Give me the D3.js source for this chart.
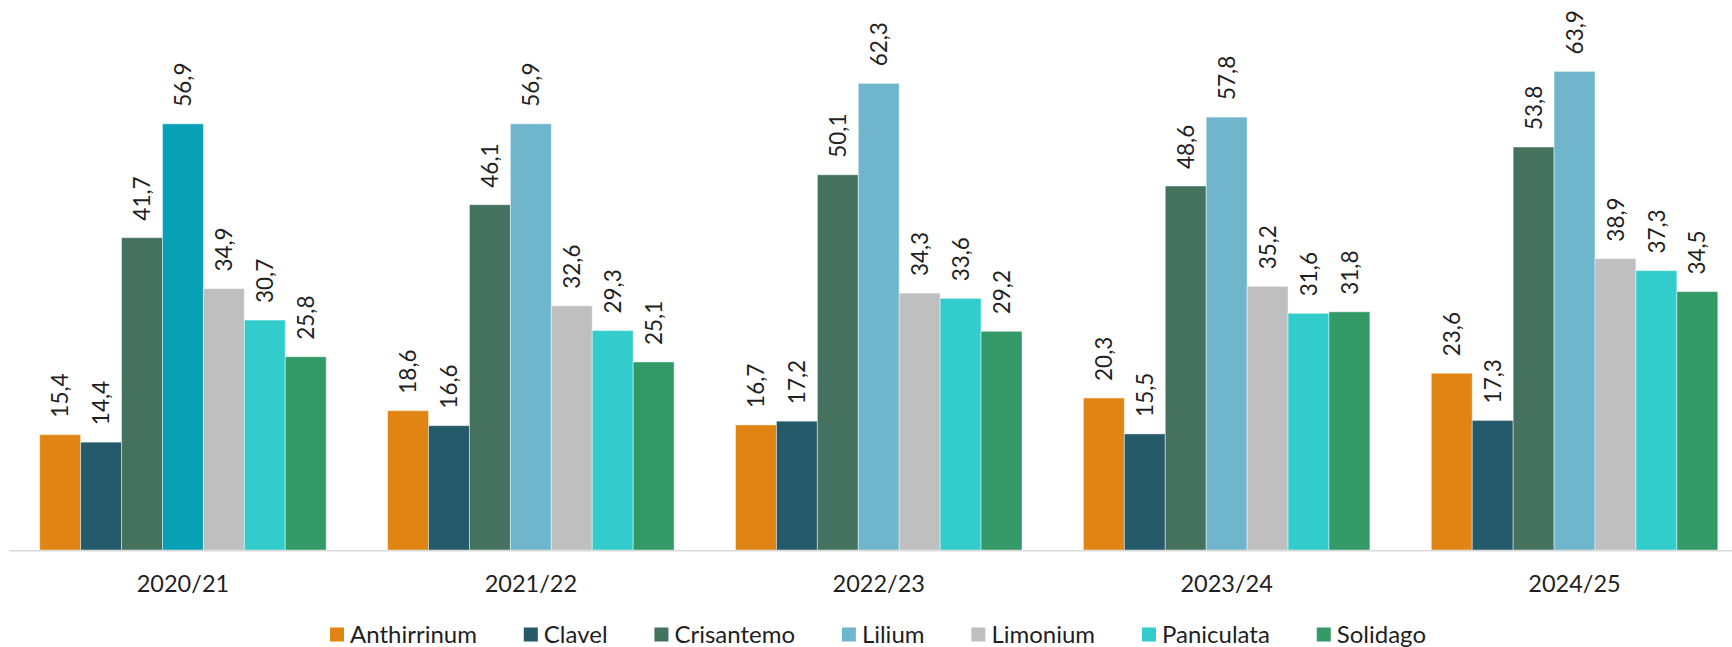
<!DOCTYPE html>
<html>
<head>
<meta charset="utf-8">
<script src="https://cdn.jsdelivr.net/npm/d3@7"></script>
<style>
  body { margin: 0; background: #fff; }
  text { font-family: Lato, "Noto Sans", sans-serif; fill: #1f1f1f; }
</style>
</head>
<body>
<script>
// campaigns on the x axis
var seasons = ["2020/21", "2021/22", "2022/23", "2023/24", "2024/25"]
// flower series
var flowers = ["Anthirrinum", "Clavel", "Crisantemo", "Lilium", "Limonium", "Paniculata", "Solidago"]
var colors = ["#e08414", "#245a69", "#44725e", "#6fb6cc", "#bfbfbf", "#33cccc", "#339966"]

// values per flower, one per season
var anthirrinum = [15.4, 18.6, 16.7, 20.3, 23.6]
var clavel      = [14.4, 16.6, 17.2, 15.5, 17.3]
var crisantemo  = [41.7, 46.1, 50.1, 48.6, 53.8]
var lilium      = [56.9, 56.9, 62.3, 57.8, 63.9]
var limonium    = [34.9, 32.6, 34.3, 35.2, 38.9]
var paniculata  = [30.7, 29.3, 33.6, 31.6, 37.3]
var solidago    = [25.8, 25.1, 29.2, 31.8, 34.5]
var series = [anthirrinum, clavel, crisantemo, lilium, limonium, paniculata, solidago]

// one point in the original has its own colour (Lilium 2020/21)
var pointColors = { "Lilium|2020/21": "#08a0b4" }

const width = 1732
const height = 647
const baseline = 550

var svg = d3.select("body").append("svg")
    .attr("width", width)
    .attr("height", height)

var x0 = d3.scaleBand().domain(seasons).range([9, 1748.5])
var x1 = d3.scaleBand().domain(flowers).range([30.7, x0.bandwidth() - 30.7])
var y = d3.scaleLinear().domain([0, 70]).range([baseline, 25.7])

var fmt = d => d3.format(".1f")(d).replace(".", ",")

// flatten into rows for drawing
var rows = []
seasons.forEach(function(s, i) {
    flowers.forEach(function(f, j) {
        rows.push({ season: s, flower: f, value: series[j][i], color: pointColors[f + "|" + s] || colors[j] })
    })
})

// bars
svg.append("g").selectAll("rect")
    .data(rows)
    .join("rect")
    .attr("x", d => x0(d.season) + x1(d.flower))
    .attr("y", d => y(d.value))
    .attr("width", x1.bandwidth())
    .attr("height", d => baseline - y(d.value))
    .attr("fill", d => d.color)
    .attr("stroke", "rgba(255,255,255,0.45)")
    .attr("stroke-width", 1)

// axis line
svg.append("line")
    .attr("x1", 9).attr("x2", width)
    .attr("y1", baseline + 0.75).attr("y2", baseline + 0.75)
    .attr("stroke", "#d9d9d9")
    .attr("stroke-width", 1.5)

// value labels, rotated
svg.append("g").selectAll("text")
    .data(rows)
    .join("text")
    .attr("transform", d => "translate(" + (x0(d.season) + x1(d.flower) + x1.bandwidth() / 2) + "," + (y(d.value) - 17) + ") rotate(-90)")
    .attr("dy", "0.36em")
    .attr("font-size", 22.5)
    .text(d => fmt(d.value))

// category labels
svg.append("g").selectAll("text")
    .data(seasons)
    .join("text")
    .attr("x", d => x0(d) + x0.bandwidth() / 2)
    .attr("y", 591.5)
    .attr("text-anchor", "middle")
    .attr("font-size", 23.5)
    .text(d => d)

// legend: spread between the left and right edges seen in the original
var legendLeft = 330, legendRight = 1426
var legend = svg.append("g")
var items = legend.selectAll("g")
    .data(flowers)
    .join("g")
items.append("rect")
    .attr("width", 14).attr("height", 14)
    .attr("y", 627.5)
    .attr("fill", (d, i) => colors[i])
items.append("text")
    .attr("x", 20)
    .attr("y", 642.5)
    .attr("font-size", 24)
    .text(d => d)

var widths = []
items.each(function() { widths.push(20 + d3.select(this).select("text").node().getComputedTextLength()) })
var gap = (legendRight - legendLeft - d3.sum(widths)) / (flowers.length - 1)
var pos = legendLeft
items.each(function(d, i) {
    d3.select(this).attr("transform", "translate(" + pos + ",0)")
    pos += widths[i] + gap
})
</script>
</body>
</html>
